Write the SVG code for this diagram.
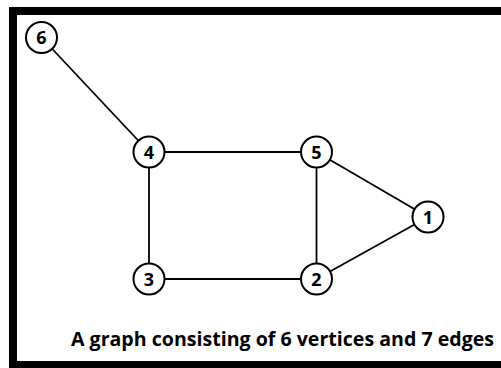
<svg xmlns="http://www.w3.org/2000/svg" width="501" height="368" viewBox="0 0 501 368">
<style>
.e{stroke:#000;stroke-width:1.8;fill:none}
.n circle{fill:#fff;stroke:#000;stroke-width:2}
.n text{font-family:"Open Sans","Liberation Sans",sans-serif;font-weight:700;font-size:18px;text-anchor:middle;fill:#000}
.cap{font-family:"Open Sans","Liberation Sans",sans-serif;font-weight:700;font-size:19px;fill:#000}
</style>
<rect x="0" y="0" width="501" height="368" fill="#fff"/>
<rect x="13" y="11" width="492" height="354" fill="none" stroke="#000" stroke-width="8"/>
<g id="edges">
<line class="e" x1="41.5" y1="37.5" x2="149" y2="152"/>
<line class="e" x1="149" y1="152" x2="316.5" y2="152"/>
<line class="e" x1="149" y1="152" x2="149" y2="279"/>
<line class="e" x1="316.5" y1="152" x2="428" y2="217"/>
<line class="e" x1="316.5" y1="152" x2="316.5" y2="279"/>
<line class="e" x1="149" y1="279" x2="316.5" y2="279"/>
<line class="e" x1="316.5" y1="279" x2="428" y2="217"/>
</g>
<g id="node6" class="n"><circle cx="41.5" cy="37.5" r="15.5"/><text x="41.5" y="44">6</text></g>
<g id="node4" class="n"><circle cx="149" cy="152" r="15.5"/><text x="149" y="158.5">4</text></g>
<g id="node5" class="n"><circle cx="316.5" cy="152" r="15.5"/><text x="316.5" y="158.5">5</text></g>
<g id="node1" class="n"><circle cx="428" cy="217" r="15.5"/><text x="428" y="223.5">1</text></g>
<g id="node2" class="n"><circle cx="316.5" cy="279" r="15.5"/><text x="316.5" y="285.5">2</text></g>
<g id="node3" class="n"><circle cx="149" cy="279" r="15.5"/><text x="149" y="285.5">3</text></g>
<text class="cap" x="71" y="346" textLength="423" lengthAdjust="spacingAndGlyphs">A graph consisting of 6 vertices and 7 edges</text>
</svg>
